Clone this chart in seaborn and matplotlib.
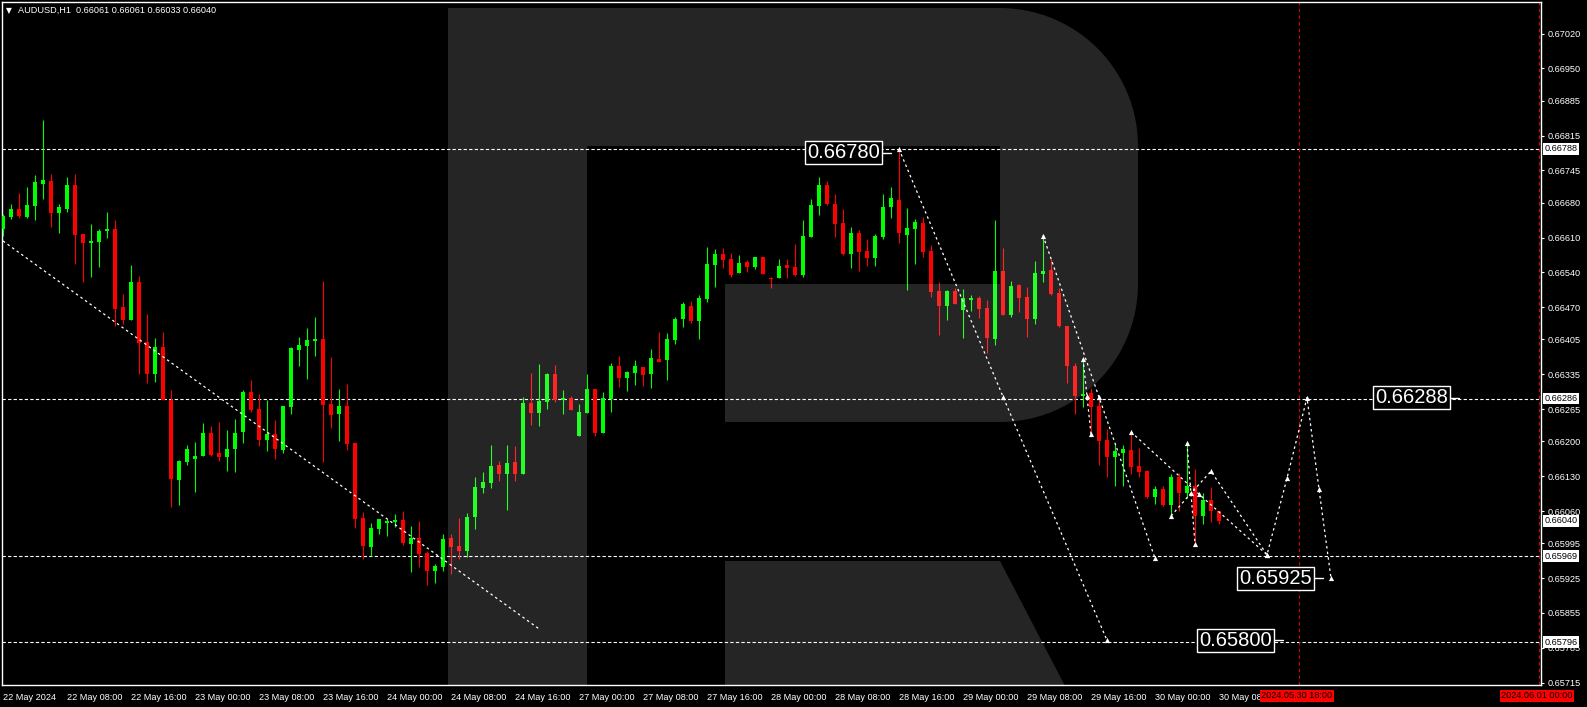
import numpy as np
import pandas as pd
import seaborn as sns
import matplotlib.pyplot as plt
import matplotlib.transforms as mtransforms
from matplotlib.patches import Polygon

# AUDUSD H1 bars, 22 May 2024 00:00 onward (bar index = hour, weekend skipped)
opens = [0.66627, 0.66651, 0.66667, 0.66651, 0.66674, 0.66717, 0.66723, 0.66659, 0.66667, 0.66715,
         0.66617, 0.66599, 0.66601, 0.66623, 0.66627, 0.66470, 0.66444, 0.66520, 0.66400, 0.66335,
         0.66389, 0.66284, 0.66122, 0.66158, 0.66164, 0.66170, 0.66216, 0.66176, 0.66168, 0.66184,
         0.66218, 0.66299, 0.66265, 0.66202, 0.66214, 0.66182, 0.66269, 0.66383, 0.66391, 0.66401,
         0.66405, 0.66275, 0.66255, 0.66271, 0.66196, 0.66046, 0.65987, 0.66023, 0.66035, 0.66037,
         0.66041, 0.65993, 0.66006, 0.65976, 0.65940, 0.65948, 0.66006, 0.65990, 0.65980, 0.66047,
         0.66107, 0.66117, 0.66153, 0.66135, 0.66159, 0.66135, 0.66277, 0.66257, 0.66279, 0.66336,
         0.66283, 0.66287, 0.66211, 0.66257, 0.66305, 0.66217, 0.66285, 0.66352, 0.66328, 0.66338,
         0.66350, 0.66336, 0.66366, 0.66364, 0.66404, 0.66446, 0.66472, 0.66442, 0.66486, 0.66555,
         0.66577, 0.66567, 0.66539, 0.66561, 0.66551, 0.66571, 0.66529, 0.66529, 0.66555, 0.66551,
         0.66535, 0.66611, 0.66673, 0.66715, 0.66677, 0.66639, 0.66577, 0.66619, 0.66583, 0.66569,
         0.66611, 0.66671, 0.66685, 0.66615, 0.66627, 0.66639, 0.66583, 0.66502, 0.66472, 0.66502,
         0.66464, 0.66484, 0.66488, 0.66468, 0.66406, 0.66542, 0.66454, 0.66514, 0.66490, 0.66446,
         0.66536, 0.66544, 0.66498, 0.66432, 0.66351, 0.66291, 0.66297, 0.66271, 0.66203, 0.66168,
         0.66176, 0.66182, 0.66150, 0.66140, 0.66088, 0.66104, 0.66072, 0.66128, 0.66096, 0.66110,
         0.66050, 0.66082, 0.66061]
highs = [0.66658, 0.66677, 0.66699, 0.66711, 0.66735, 0.66846, 0.66737, 0.66677, 0.66731, 0.66737,
         0.66618, 0.66637, 0.66627, 0.66661, 0.66645, 0.66496, 0.66554, 0.66532, 0.66456, 0.66407,
         0.66420, 0.66303, 0.66162, 0.66192, 0.66198, 0.66237, 0.66231, 0.66239, 0.66222, 0.66245,
         0.66303, 0.66323, 0.66295, 0.66284, 0.66243, 0.66271, 0.66389, 0.66409, 0.66428, 0.66450,
         0.66522, 0.66369, 0.66305, 0.66315, 0.66196, 0.66058, 0.66035, 0.66043, 0.66043, 0.66054,
         0.66060, 0.66030, 0.66040, 0.65980, 0.65954, 0.66014, 0.66014, 0.66046, 0.66056, 0.66128,
         0.66139, 0.66193, 0.66161, 0.66193, 0.66191, 0.66289, 0.66338, 0.66356, 0.66338, 0.66354,
         0.66303, 0.66291, 0.66275, 0.66336, 0.66305, 0.66299, 0.66358, 0.66372, 0.66342, 0.66364,
         0.66350, 0.66386, 0.66420, 0.66418, 0.66450, 0.66480, 0.66482, 0.66494, 0.66591, 0.66587,
         0.66589, 0.66579, 0.66575, 0.66565, 0.66571, 0.66571, 0.66531, 0.66567, 0.66567, 0.66597,
         0.66645, 0.66688, 0.66732, 0.66723, 0.66697, 0.66667, 0.66631, 0.66625, 0.66607, 0.66617,
         0.66697, 0.66711, 0.66788, 0.66669, 0.66647, 0.66651, 0.66595, 0.66520, 0.66504, 0.66508,
         0.66506, 0.66494, 0.66492, 0.66484, 0.66645, 0.66589, 0.66522, 0.66516, 0.66510, 0.66563,
         0.66615, 0.66567, 0.66508, 0.66432, 0.66357, 0.66367, 0.66307, 0.66291, 0.66225, 0.66195,
         0.66193, 0.66219, 0.66186, 0.66142, 0.66110, 0.66110, 0.66134, 0.66136, 0.66197, 0.66144,
         0.66096, 0.66108, 0.66061]
lows = [0.66613, 0.66647, 0.66649, 0.66649, 0.66645, 0.66687, 0.66631, 0.66619, 0.66662, 0.66556,
        0.66520, 0.66530, 0.66550, 0.66609, 0.66432, 0.66436, 0.66444, 0.66335, 0.66317, 0.66319,
        0.66284, 0.66068, 0.66072, 0.66152, 0.66098, 0.66170, 0.66170, 0.66160, 0.66140, 0.66138,
        0.66196, 0.66259, 0.66190, 0.66180, 0.66164, 0.66176, 0.66255, 0.66351, 0.66325, 0.66371,
        0.66158, 0.66226, 0.66200, 0.66182, 0.66025, 0.65963, 0.65969, 0.66013, 0.66009, 0.66027,
        0.65991, 0.65937, 0.65948, 0.65911, 0.65916, 0.65940, 0.65934, 0.65963, 0.65967, 0.66023,
        0.66097, 0.66107, 0.66121, 0.66063, 0.66121, 0.66135, 0.66233, 0.66231, 0.66265, 0.66279,
        0.66255, 0.66263, 0.66211, 0.66257, 0.66211, 0.66217, 0.66259, 0.66309, 0.66301, 0.66313,
        0.66311, 0.66307, 0.66360, 0.66324, 0.66396, 0.66430, 0.66438, 0.66406, 0.66480, 0.66510,
        0.66549, 0.66531, 0.66539, 0.66541, 0.66547, 0.66537, 0.66509, 0.66529, 0.66529, 0.66533,
        0.66531, 0.66611, 0.66655, 0.66675, 0.66611, 0.66575, 0.66549, 0.66543, 0.66553, 0.66553,
        0.66607, 0.66649, 0.66599, 0.66504, 0.66557, 0.66571, 0.66490, 0.66414, 0.66444, 0.66476,
        0.66408, 0.66462, 0.66448, 0.66378, 0.66394, 0.66454, 0.66450, 0.66460, 0.66410, 0.66436,
        0.66520, 0.66494, 0.66430, 0.66317, 0.66255, 0.66269, 0.66215, 0.66152, 0.66128, 0.66110,
        0.66110, 0.66134, 0.66128, 0.66086, 0.66074, 0.66070, 0.66050, 0.66060, 0.66086, 0.65994,
        0.66034, 0.66038, 0.66033]
closes = [0.66653, 0.66667, 0.66653, 0.66675, 0.66721, 0.66725, 0.66659, 0.66671, 0.66715, 0.66615,
          0.66599, 0.66603, 0.66623, 0.66627, 0.66466, 0.66444, 0.66520, 0.66397, 0.66335, 0.66389,
          0.66284, 0.66124, 0.66160, 0.66184, 0.66170, 0.66216, 0.66172, 0.66168, 0.66184, 0.66216,
          0.66299, 0.66263, 0.66202, 0.66214, 0.66184, 0.66271, 0.66387, 0.66393, 0.66403, 0.66405,
          0.66273, 0.66253, 0.66271, 0.66194, 0.66043, 0.65989, 0.66025, 0.66043, 0.66039, 0.66041,
          0.65995, 0.66005, 0.65974, 0.65939, 0.65950, 0.66004, 0.65988, 0.65980, 0.66048, 0.66108,
          0.66118, 0.66151, 0.66135, 0.66157, 0.66135, 0.66277, 0.66257, 0.66281, 0.66336, 0.66283,
          0.66287, 0.66263, 0.66259, 0.66305, 0.66217, 0.66287, 0.66352, 0.66328, 0.66340, 0.66352,
          0.66334, 0.66368, 0.66360, 0.66406, 0.66446, 0.66476, 0.66442, 0.66488, 0.66557, 0.66577,
          0.66565, 0.66535, 0.66559, 0.66551, 0.66571, 0.66537, 0.66527, 0.66553, 0.66549, 0.66535,
          0.66613, 0.66675, 0.66715, 0.66677, 0.66637, 0.66577, 0.66619, 0.66581, 0.66569, 0.66613,
          0.66671, 0.66689, 0.66619, 0.66629, 0.66641, 0.66581, 0.66500, 0.66472, 0.66502, 0.66476,
          0.66488, 0.66488, 0.66466, 0.66408, 0.66542, 0.66454, 0.66512, 0.66488, 0.66446, 0.66538,
          0.66542, 0.66496, 0.66432, 0.66351, 0.66291, 0.66295, 0.66269, 0.66201, 0.66168, 0.66180,
          0.66184, 0.66148, 0.66138, 0.66088, 0.66104, 0.66072, 0.66128, 0.66096, 0.66110, 0.66050,
          0.66082, 0.66060, 0.66040]

time_labels = ["22 May 2024", "22 May 08:00", "22 May 16:00", "23 May 00:00", "23 May 08:00",
               "23 May 16:00", "24 May 00:00", "24 May 08:00", "24 May 16:00", "27 May 00:00",
               "27 May 08:00", "27 May 16:00", "28 May 00:00", "28 May 08:00", "28 May 16:00",
               "29 May 00:00", "29 May 08:00", "29 May 16:00", "30 May 00:00", "30 May 08:00"]
price_ticks = [0.67020, 0.66950, 0.66885, 0.66815, 0.66745, 0.66680, 0.66610, 0.66540, 0.66470,
               0.66405, 0.66335, 0.66265, 0.66200, 0.66130, 0.66060, 0.65995, 0.65925, 0.65855,
               0.65785, 0.65715]

levels = [0.66788, 0.66286, 0.65969, 0.65796]
last_price = 0.66040
red_marks = [162, 192]
red_labels = ["2024.05.30 18:00", "2024.06.01 00:00"]

# forecast / wave lines (bar index, price)
trend_bars = [0, 67]
trend_prices = [0.66603, 0.65823]
wave1_bars = [112, 125, 138]
wave1_prices = [0.66788, 0.66290, 0.65800]
wave2_bars = [130, 137, 144]
wave2_prices = [0.66614, 0.66289, 0.65965]
wave3_bars = [135, 135.5, 136]
wave3_prices = [0.66366, 0.66291, 0.66214]
wave4_bars = [141, 149.5, 158]
wave4_prices = [0.66219, 0.66094, 0.65972]
wave5_bars = [148, 149]
wave5_prices = [0.66196, 0.65994]
forecast_bars = [146, 148.5, 151, 158, 160.5, 163, 164.5, 166]
forecast_prices = [0.66050, 0.66096, 0.66140, 0.65972, 0.66126, 0.66288, 0.66104, 0.65925]

target_values = [0.66780, 0.66288, 0.65925, 0.65800]
target_right = [109.9, 180.9, 163.9, 158.9]

W, H = 1587, 707
sns.set_theme(style="dark", rc={"axes.facecolor": "black", "figure.facecolor": "black"})
plt.rcParams['font.family'] = ['Liberation Sans', 'DejaVu Sans']

fig = plt.figure(figsize=(W / 100, H / 100), dpi=100)
ax = fig.add_axes([2 / W, 1 - 685 / H, 1539 / W, 683 / H])
ax.set_facecolor('black')
ax.grid(False)

# candles
o, hi, lo, c = map(np.array, (opens, highs, lows, closes))
idx = np.arange(len(o))
col = np.where(c >= o, '#00ff00', '#ff0000')
ax.vlines(idx, lo, hi, colors=col, linewidth=0.8, zorder=3)
ax.bar(idx, np.maximum(np.abs(c - o), 0.000022), bottom=np.minimum(o, c), width=0.62,
       color=col, linewidth=0, zorder=4)

for lv in levels:
    ax.axhline(lv, color='white', lw=0.8, ls=(0, (3, 2)), zorder=2)
for rm in red_marks:
    ax.axvline(rm, color='#e00000', lw=0.8, ls=(0, (3, 3)), zorder=2)

# dotted wave lines
rows = []
for name, bx, py in [("trend", trend_bars, trend_prices), ("w1", wave1_bars, wave1_prices),
                     ("w2", wave2_bars, wave2_prices), ("w3", wave3_bars, wave3_prices),
                     ("w4", wave4_bars, wave4_prices), ("w5", wave5_bars, wave5_prices),
                     ("fc", forecast_bars, forecast_prices)]:
    for k, (b, p) in enumerate(zip(bx, py)):
        rows.append({"path": name, "order": k, "bar": b, "price": p})
df = pd.DataFrame(rows)
sns.lineplot(data=df, x="bar", y="price", units="path", estimator=None, sort=False,
             color='white', lw=0.9, linestyle=(0, (2, 2.5)), ax=ax, legend=False, zorder=6)
pts = df[df.path != "trend"]
sns.scatterplot(x=pts.bar, y=pts.price, marker='^', s=14, color='white', linewidth=0,
                ax=ax, zorder=7, legend=False)

# R watermark (white overlay, pixel coordinates)
px = mtransforms.Affine2D().scale(1 / W, -1 / H).translate(0, 1) + fig.transFigure
r = 138
th1 = np.radians(np.linspace(90, 0, 30))
th2 = np.radians(np.linspace(0, -90, 30))
bowl = [(587, 8)] + [(1000 + r * np.cos(t), 146 - r * np.sin(t)) for t in th1] \
       + [(1000 + r * np.cos(t), 284 - r * np.sin(t)) for t in th2] \
       + [(725, 422), (725, 284), (1000, 284), (1000, 146), (587, 146)]
stem = [(448, 8), (587, 8), (587, 686), (448, 686)]
leg = [(725, 561), (1000, 561), (1065, 686), (725, 686)]
for shape in (bowl, stem, leg):
    ax.add_patch(Polygon(shape, closed=True, transform=px, facecolor='white', alpha=0.15,
                         edgecolor='none', zorder=5))

# boxed target labels
for val, xr in zip(target_values, target_right):
    ax.text(xr - 0.3, val, f"{val:.5f}", color='white', fontsize=14.5, ha='right', va='center',
            bbox=dict(boxstyle='square,pad=0.1', fc='black', ec='white', lw=1), zorder=10)
    ax.plot([xr, xr + 1.1], [val, val], color='white', lw=1, zorder=10)

ax.set_xlim(-0.125, 192.25)
ax.set_ylim(0.657101, 0.670836)

# axes styling
for sp in ax.spines.values():
    sp.set_color('white')
    sp.set_linewidth(1)
ax.yaxis.tick_right()
ax.set_yticks(price_ticks)
ax.set_yticklabels([f"{v:.5f}" for v in price_ticks])
ax.set_xticks(np.arange(0, 8 * len(time_labels), 8))
ax.set_xticklabels(time_labels)
for lab in ax.get_xticklabels():
    lab.set_horizontalalignment('left')
ax.tick_params(axis='y', colors='white', labelsize=6.6, length=2.5, width=0.8, pad=2)
ax.tick_params(axis='x', colors='white', labelsize=6.6, length=3.5, width=0.8, pad=2)
ax.set_xlabel('')
ax.set_ylabel('')

yblend = mtransforms.blended_transform_factory(ax.transAxes, ax.transData)
for lv in levels + [last_price]:
    ax.text(1.0025, lv, f"{lv:.5f}", transform=yblend, color='black', fontsize=6.6,
            ha='left', va='center', clip_on=False, zorder=12,
            bbox=dict(boxstyle='square,pad=0.15', fc='white', ec='none'))

xblend = mtransforms.blended_transform_factory(ax.transData, fig.transFigure)
for rm, lab in zip(red_marks, red_labels):
    ax.text(rm - 4.7, 1 - 696 / H, lab, transform=xblend, color='black', fontsize=6.6,
            ha='left', va='center', clip_on=False, zorder=12,
            bbox=dict(boxstyle='square,pad=0.15', fc='#ff0000', ec='none'))

fig.text(6 / W, 1 - 10.5 / H, "\u25bc", color='white', fontsize=5.5, va='center',
         family=['DejaVu Sans'])
fig.text(18 / W, 1 - 10.5 / H, "AUDUSD,H1  0.66061 0.66061 0.66033 0.66040", color='white',
         fontsize=6.6, va='center')

fig.savefig("out.png", dpi=100, facecolor='black')
